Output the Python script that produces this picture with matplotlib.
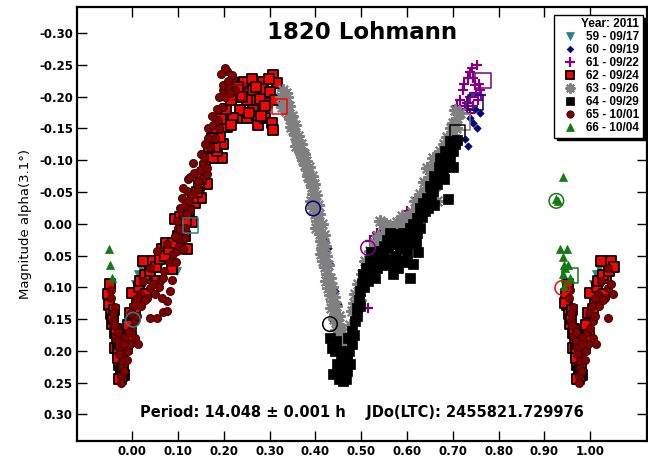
import matplotlib.pyplot as plt
from matplotlib.lines import Line2D
import numpy as np

plt.rcParams['font.family'] = ['DejaVu Sans']
plt.rcParams['font.weight'] = 'bold'

# phase, reduced magnitude (phase 0..1, repeats at edges)
s59 = [(0.028, 0.063), (0.013, 0.079), (0.007, 0.095), (0.098, 0.074), (0.035, 0.060),
       (0.044, 0.074), (0.092, 0.070), (0.020, 0.070), (0.060, 0.065), (0.040, 0.068)]

s60 = [(0.428, 0.038), (0.432, 0.063), (0.450, 0.126), (0.439, 0.153), (0.417, 0.047),
       (0.443, 0.106), (0.410, 0.011), (0.745, -0.158), (0.753, -0.150), (0.727, -0.134),
       (0.738, -0.166), (0.760, -0.175), (0.734, -0.123), (0.515, 0.058), (0.748, -0.180),
       (0.420, 0.025)]

s61 = [(0.753, -0.250), (0.738, -0.239), (0.734, -0.229), (0.749, -0.218), (0.760, -0.210),
       (0.723, -0.210), (0.738, -0.199), (0.755, -0.194), (0.727, -0.186), (0.716, -0.175),
       (0.738, -0.175), (0.705, -0.163), (0.762, -0.202), (0.716, -0.194), (0.745, -0.230),
       (0.730, -0.190), (0.651, -0.079), (0.622, -0.041), (0.541, 0.016), (0.520, 0.027),
       (0.541, -0.002), (0.535, 0.014), (0.515, 0.133), (0.690, -0.130), (0.600, -0.020),
       (0.560, 0.005), (0.680, -0.100), (0.527, 0.020), (0.742, -0.245), (0.725, -0.220),
       (0.750, -0.205), (0.732, -0.180), (0.710, -0.185), (0.758, -0.220), (0.745, -0.185)]

s62 = [(0.948, 0.110), (0.952, 0.095), (0.950, 0.128), (0.953, 0.142), (0.956, 0.158),
       (0.958, 0.150), (0.962, 0.172), (0.966, 0.185), (0.963, 0.195), (0.970, 0.205),
       (0.972, 0.222), (0.976, 0.232), (0.978, 0.215), (0.975, 0.245), (0.982, 0.238),
       (0.985, 0.177), (0.988, 0.195), (0.991, 0.180), (0.996, 0.168), (0.994, 0.185),
       (0.998, 0.177), (0.944, 0.125), (0.969, 0.196), (0.969, 0.212), (0.978, 0.240),
       (0.960, 0.135), (0.965, 0.165), (0.973, 0.190), (0.980, 0.225), (0.990, 0.160),
       (0.995, 0.140), (0.972, 0.245),
       (0.000, 0.109), (0.007, 0.134), (0.015, 0.100), (0.024, 0.058), (0.046, 0.058),
       (0.066, 0.039), (0.087, 0.071), (0.120, 0.039), (0.094, -0.008), (0.131, -0.002),
       (0.138, -0.033), (0.164, -0.063), (0.170, -0.104), (0.197, -0.104), (0.177, -0.104),
       (0.186, -0.115), (0.199, -0.126), (0.192, -0.136), (0.207, -0.152), (0.229, -0.166),
       (0.251, -0.167), (0.236, -0.179), (0.242, -0.221), (0.258, -0.205), (0.264, -0.183),
       (0.275, -0.155), (0.290, -0.167), (0.306, -0.158), (0.308, -0.147), (0.286, -0.223),
       (0.308, -0.234), (0.317, -0.221), (0.284, -0.212), (0.273, -0.194), (0.295, -0.190),
       (0.251, -0.194), (0.229, -0.199), (0.245, -0.223), (0.264, -0.210), (0.301, -0.207),
       (0.255, -0.174), (0.221, -0.166), (0.279, -0.197), (0.290, -0.186), (0.150, -0.040),
       (0.110, 0.010), (0.035, 0.085), (0.075, 0.030), (0.105, -0.010), (0.145, -0.060),
       (0.180, -0.120), (0.055, 0.090), (0.030, 0.110), (0.115, 0.020), (0.158, -0.080),
       (0.010, 0.125), (0.018, 0.090), (0.028, 0.080), (0.040, 0.075), (0.052, 0.068),
       (0.060, 0.055), (0.072, 0.050), (0.080, 0.040), (0.090, 0.030), (0.100, 0.020),
       (0.108, 0.005), (0.118, -0.005), (0.125, -0.020), (0.132, -0.040), (0.142, -0.050),
       (0.150, -0.070), (0.160, -0.090), (0.168, -0.120), (0.175, -0.135), (0.185, -0.150),
       (0.195, -0.165), (0.205, -0.180), (0.215, -0.195), (0.222, -0.210), (0.232, -0.215),
       (0.262, -0.228), (0.270, -0.215), (0.298, -0.228), (0.312, -0.195), (0.281, -0.170),
       (0.240, -0.200), (0.215, -0.155)]

s63 = [(0.330, -0.210), (0.326, -0.200), (0.338, -0.199), (0.333, -0.190), (0.328, -0.183),
       (0.337, -0.178), (0.341, -0.174), (0.345, -0.165), (0.349, -0.160), (0.347, -0.152),
       (0.352, -0.147), (0.356, -0.140), (0.360, -0.131), (0.358, -0.122), (0.364, -0.118),
       (0.367, -0.115), (0.370, -0.105), (0.373, -0.100), (0.373, -0.111), (0.378, -0.092),
       (0.382, -0.084), (0.385, -0.075), (0.389, -0.068), (0.392, -0.058), (0.395, -0.047),
       (0.391, -0.036), (0.398, -0.030), (0.395, -0.025), (0.400, -0.015), (0.404, -0.005),
       (0.402, 0.006), (0.407, 0.010), (0.410, 0.016), (0.412, 0.027), (0.415, 0.038),
       (0.413, 0.048), (0.417, 0.058), (0.421, 0.068), (0.426, 0.079), (0.424, 0.090),
       (0.428, 0.101), (0.432, 0.112), (0.437, 0.122), (0.435, 0.132), (0.443, 0.142),
       (0.440, 0.150), (0.450, 0.158), (0.446, 0.168), (0.455, 0.180), (0.459, 0.190),
       (0.462, 0.201), (0.466, 0.212), (0.470, 0.221), (0.455, 0.230),
       (0.335, -0.205), (0.343, -0.185), (0.350, -0.170), (0.355, -0.155), (0.362, -0.138),
       (0.368, -0.125), (0.376, -0.110), (0.380, -0.098), (0.386, -0.090), (0.393, -0.075),
       (0.397, -0.062), (0.402, -0.045), (0.405, -0.030), (0.409, -0.015), (0.414, 0.000),
       (0.418, 0.018), (0.420, 0.035), (0.424, 0.050), (0.428, 0.065), (0.432, 0.085),
       (0.437, 0.100), (0.441, 0.115), (0.446, 0.130), (0.452, 0.145), (0.458, 0.165),
       (0.465, 0.180), (0.470, 0.195), (0.476, 0.160), (0.484, 0.125),
       (0.480, 0.137), (0.487, 0.111), (0.493, 0.095), (0.502, 0.079), (0.509, 0.058),
       (0.520, 0.043), (0.530, 0.030), (0.541, -0.005), (0.548, 0.000), (0.563, 0.006),
       (0.563, 0.022), (0.579, -0.002), (0.585, -0.005), (0.600, -0.010), (0.610, -0.018),
       (0.622, -0.025), (0.629, -0.021), (0.629, -0.047), (0.633, -0.044), (0.644, -0.057),
       (0.651, -0.073), (0.666, -0.036), (0.666, -0.084), (0.672, -0.079), (0.644, -0.088),
       (0.657, -0.104), (0.672, -0.115), (0.688, -0.111), (0.688, -0.136), (0.697, -0.150),
       (0.701, -0.158), (0.705, -0.179), (0.710, -0.167), (0.498, 0.120), (0.515, 0.070),
       (0.553, 0.015), (0.575, 0.020), (0.595, 0.000), (0.680, -0.125), (0.505, 0.090),
       (0.525, 0.050), (0.537, 0.020), (0.555, 0.000), (0.570, 0.005), (0.590, -0.012),
       (0.605, -0.005), (0.617, -0.035), (0.638, -0.065), (0.655, -0.090), (0.662, -0.060),
       (0.676, -0.100), (0.693, -0.125), (0.700, -0.140), (0.715, -0.175), (0.708, -0.150)]

s64 = [(0.432, 0.180), (0.443, 0.201), (0.461, 0.201), (0.469, 0.212), (0.448, 0.221),
       (0.476, 0.221), (0.439, 0.237), (0.461, 0.248), (0.469, 0.232), (0.480, 0.190),
       (0.480, 0.169), (0.487, 0.153), (0.452, 0.245), (0.437, 0.195), (0.455, 0.215),
       (0.472, 0.180), (0.491, 0.133), (0.498, 0.106), (0.495, 0.120), (0.504, 0.079),
       (0.502, 0.095), (0.510, 0.070), (0.520, 0.058), (0.526, 0.063), (0.530, 0.050),
       (0.541, 0.043), (0.550, 0.035), (0.559, 0.038), (0.563, 0.063), (0.563, 0.014),
       (0.570, 0.032), (0.570, 0.079), (0.579, 0.016), (0.585, 0.038), (0.585, 0.058),
       (0.592, 0.014), (0.600, 0.032), (0.600, 0.047), (0.607, 0.085), (0.607, 0.006),
       (0.614, 0.022), (0.614, 0.063), (0.614, 0.000), (0.622, -0.009), (0.629, -0.025),
       (0.629, 0.006), (0.635, -0.032), (0.644, -0.041), (0.657, -0.052), (0.666, -0.063),
       (0.672, -0.104), (0.679, -0.084), (0.688, -0.100), (0.690, -0.039), (0.694, -0.100),
       (0.701, -0.115), (0.710, -0.131), (0.650, -0.060), (0.640, -0.020), (0.620, 0.030),
       (0.595, 0.060), (0.555, 0.055), (0.535, 0.070), (0.515, 0.090), (0.680, -0.070),
       (0.700, -0.090), (0.445, 0.185), (0.458, 0.230), (0.466, 0.245), (0.474, 0.200),
       (0.484, 0.175), (0.490, 0.145), (0.497, 0.130), (0.506, 0.100), (0.515, 0.075),
       (0.522, 0.045), (0.535, 0.055), (0.548, 0.050), (0.556, 0.025), (0.575, 0.050),
       (0.590, 0.030), (0.605, 0.020), (0.622, 0.015), (0.633, -0.010), (0.645, -0.025),
       (0.652, -0.045), (0.660, -0.075), (0.670, -0.090), (0.684, -0.115), (0.695, -0.130),
       (0.705, -0.125), (0.660, -0.030), (0.625, 0.045), (0.580, 0.070), (0.547, 0.065),
       (0.530, 0.085)]

s65 = [(0.954, 0.117), (0.963, 0.131), (0.959, 0.153), (0.967, 0.164), (0.963, 0.177),
       (0.969, 0.185), (0.974, 0.196), (0.980, 0.205), (0.978, 0.216), (0.978, 0.227),
       (0.976, 0.240), (0.976, 0.251), (0.991, 0.200), (0.996, 0.190), (0.985, 0.178),
       (0.988, 0.215), (0.982, 0.232), (0.955, 0.105), (0.958, 0.140), (0.961, 0.160),
       (0.970, 0.170), (0.972, 0.205), (0.983, 0.190), (0.993, 0.170), (0.998, 0.140),
       (0.007, 0.180), (0.013, 0.190), (0.000, 0.164), (0.007, 0.153), (0.039, 0.148),
       (0.055, 0.148), (0.068, 0.139), (0.076, 0.137), (0.017, 0.111), (0.039, 0.101),
       (0.061, 0.090), (0.083, 0.106), (0.068, 0.085), (0.090, 0.047), (0.098, 0.043),
       (0.105, 0.027), (0.098, 0.019), (0.116, 0.022), (0.109, -0.041), (0.127, -0.021),
       (0.120, -0.052), (0.133, -0.047), (0.144, -0.055), (0.122, -0.071), (0.142, -0.063),
       (0.153, -0.071), (0.133, -0.095), (0.155, -0.095), (0.164, -0.079), (0.109, -0.013),
       (0.116, 0.006), (0.100, 0.006), (0.076, 0.032), (0.055, 0.043), (0.039, 0.070),
       (0.024, 0.090), (0.011, 0.117), (0.033, 0.117), (0.076, 0.122), (0.050, 0.111),
       (0.066, 0.117), (0.111, -0.057), (0.105, -0.025), (0.120, -0.016), (0.098, -0.005),
       (0.105, 0.008), (0.094, 0.019), (0.127, -0.073), (0.144, -0.068), (0.164, -0.088),
       (0.170, -0.120), (0.166, -0.150), (0.177, -0.155), (0.188, -0.164), (0.199, -0.183),
       (0.199, -0.210), (0.210, -0.215), (0.207, -0.240), (0.221, -0.229), (0.225, -0.210),
       (0.203, -0.245), (0.218, -0.234), (0.199, -0.218), (0.203, -0.199), (0.197, -0.183),
       (0.214, -0.205), (0.180, -0.135), (0.190, -0.150), (0.150, -0.110), (0.160, -0.125),
       (0.003, 0.130), (0.010, 0.145), (0.020, 0.130), (0.028, 0.120), (0.045, 0.095),
       (0.058, 0.100), (0.070, 0.075), (0.082, 0.060), (0.088, 0.088), (0.095, 0.060),
       (0.102, 0.035), (0.112, 0.040), (0.115, -0.030), (0.125, -0.035), (0.135, -0.080),
       (0.148, -0.085), (0.158, -0.105), (0.165, -0.135), (0.175, -0.170), (0.185, -0.180),
       (0.190, -0.200), (0.210, -0.225), (0.195, -0.235)]

s66 = [(0.950, 0.039), (0.952, 0.065), (0.956, 0.085), (0.941, -0.074), (0.926, -0.039),
       (0.930, -0.036), (0.934, 0.039), (0.940, 0.052), (0.942, 0.065), (0.941, 0.079),
       (0.943, 0.098), (0.944, 0.070)]

# session start (circle) / end (square) markers
starts = {'59': (0.002, 0.151), '60': (0.395, -0.024), '61': (0.515, 0.038),
          '62': (0.939, 0.101), '64': (0.432, 0.158), '66': (0.926, -0.036)}
ends = {'59': (0.127, 0.003), '60': (0.749, -0.191), '61': (0.766, -0.226),
        '62': (0.321, -0.185), '63': (0.721, -0.160), '64': (0.710, -0.144),
        '65': (0.229, -0.207), '66': (0.956, 0.082)}

labels = ['59 - 09/17', '60 - 09/19', '61 - 09/22', '62 - 09/24',
          '63 - 09/26', '64 - 09/29', '65 - 10/01', '66 - 10/04']

colors = {'59': '#2b8080', '60': '#00007f', '61': '#800080', '62': '#ff0000',
          '63': '#808080', '64': '#000000', '65': '#800000', '66': '#127a12'}


def wrap(pts):
    out = list(pts)
    for p, m in pts:
        if p >= 0.945:
            out.append((p - 1, m))
        if p < 0.055:
            out.append((p + 1, m))
    return np.array(out)


fig = plt.figure(figsize=(6.48, 4.58), dpi=100)
ax = fig.add_axes([0.119, 0.037, 0.8795, 0.9476])

styles = [
    ('59', s59, dict(marker='v', s=34, c=colors['59'], edgecolors=colors['59'], linewidths=0.5)),
    ('60', s60, dict(marker='D', s=14, c=colors['60'], edgecolors=colors['60'], linewidths=0.5)),
    ('61', s61, dict(marker='+', s=55, c=colors['61'], linewidths=1.6)),
    ('62', s62, dict(marker='s', s=44, c=colors['62'], edgecolors='black', linewidths=1.3)),
    ('63', s63, dict(marker=(8, 2, 0), s=64, c=colors['63'], linewidths=1.6)),
    ('64', s64, dict(marker='s', s=46, c='black', edgecolors='black', linewidths=0.5)),
    ('65', s65, dict(marker='o', s=34, c=colors['65'], edgecolors='#300000', linewidths=0.6)),
    ('66', s66, dict(marker='^', s=34, c=colors['66'], edgecolors=colors['66'], linewidths=0.5)),
]

for z, (key, pts, kw) in enumerate(styles):
    arr = wrap(pts)
    ax.scatter(arr[:, 0], arr[:, 1], zorder=3 + z, **kw)

for key, (p, m) in starts.items():
    ax.scatter(p, m, marker='o', s=110, facecolors='none', edgecolors=colors[key],
               linewidths=1.1, zorder=12)
for key, (p, m) in ends.items():
    ax.scatter(p, m, marker='s', s=120, facecolors='none', edgecolors=colors[key],
               linewidths=1.1, zorder=12)

ax.set_xlim(-0.12, 1.124)
ax.set_ylim(0.342, -0.341)

xt = np.round(np.arange(0, 1.01, 0.1), 2)
yt = np.round(np.arange(-0.30, 0.31, 0.05), 2)
ax.set_xticks(xt)
ax.set_xticklabels(['%.2f' % v for v in xt])
ax.set_yticks(yt)
ax.set_yticklabels(['%.2f' % (v + 0.0) for v in yt])
ax.tick_params(direction='in', length=7, width=1, top=True, right=True,
               labelsize=8.5, pad=3)
for sp in ax.spines.values():
    sp.set_linewidth(1.6)

ax.set_ylabel('Magnitude alpha(3.1°)', fontsize=9.5, fontweight='normal', labelpad=5)

ax.text(0.5, 0.942, '1820 Lohmann', transform=ax.transAxes, ha='center', va='center',
        fontsize=16.5, fontweight='bold')
ax.text(0.5, 0.066, 'Period: 14.048 ± 0.001 h    JDo(LTC): 2455821.729976',
        transform=ax.transAxes, ha='center', va='center', fontsize=10.5)

handles = []
for key, pts, kw in styles:
    handles.append(Line2D([], [], linestyle='none', marker=kw['marker'],
                          markersize=np.sqrt(kw['s']) * 0.9,
                          markerfacecolor=kw['c'],
                          markeredgecolor=kw.get('edgecolors', kw['c']),
                          markeredgewidth=kw.get('linewidths', 1),
                          color=kw['c']))
leg = ax.legend(handles, labels, title='Year: 2011', loc='upper right',
                bbox_to_anchor=(0.993, 0.982),
                prop={'family': 'Liberation Sans', 'weight': 'bold', 'size': 8.5},
                title_fontproperties={'family': 'Liberation Sans', 'weight': 'bold',
                                      'size': 8.5},
                frameon=True, fancybox=False, edgecolor='black', framealpha=1,
                shadow={'color': 'black', 'alpha': 1}, labelspacing=0.08,
                handletextpad=0.4, handlelength=2.0, borderpad=0.3,
                borderaxespad=0, alignment='right')
leg.get_frame().set_linewidth(1.0)
leg.set_zorder(20)

fig.savefig('out.png', dpi=100)
